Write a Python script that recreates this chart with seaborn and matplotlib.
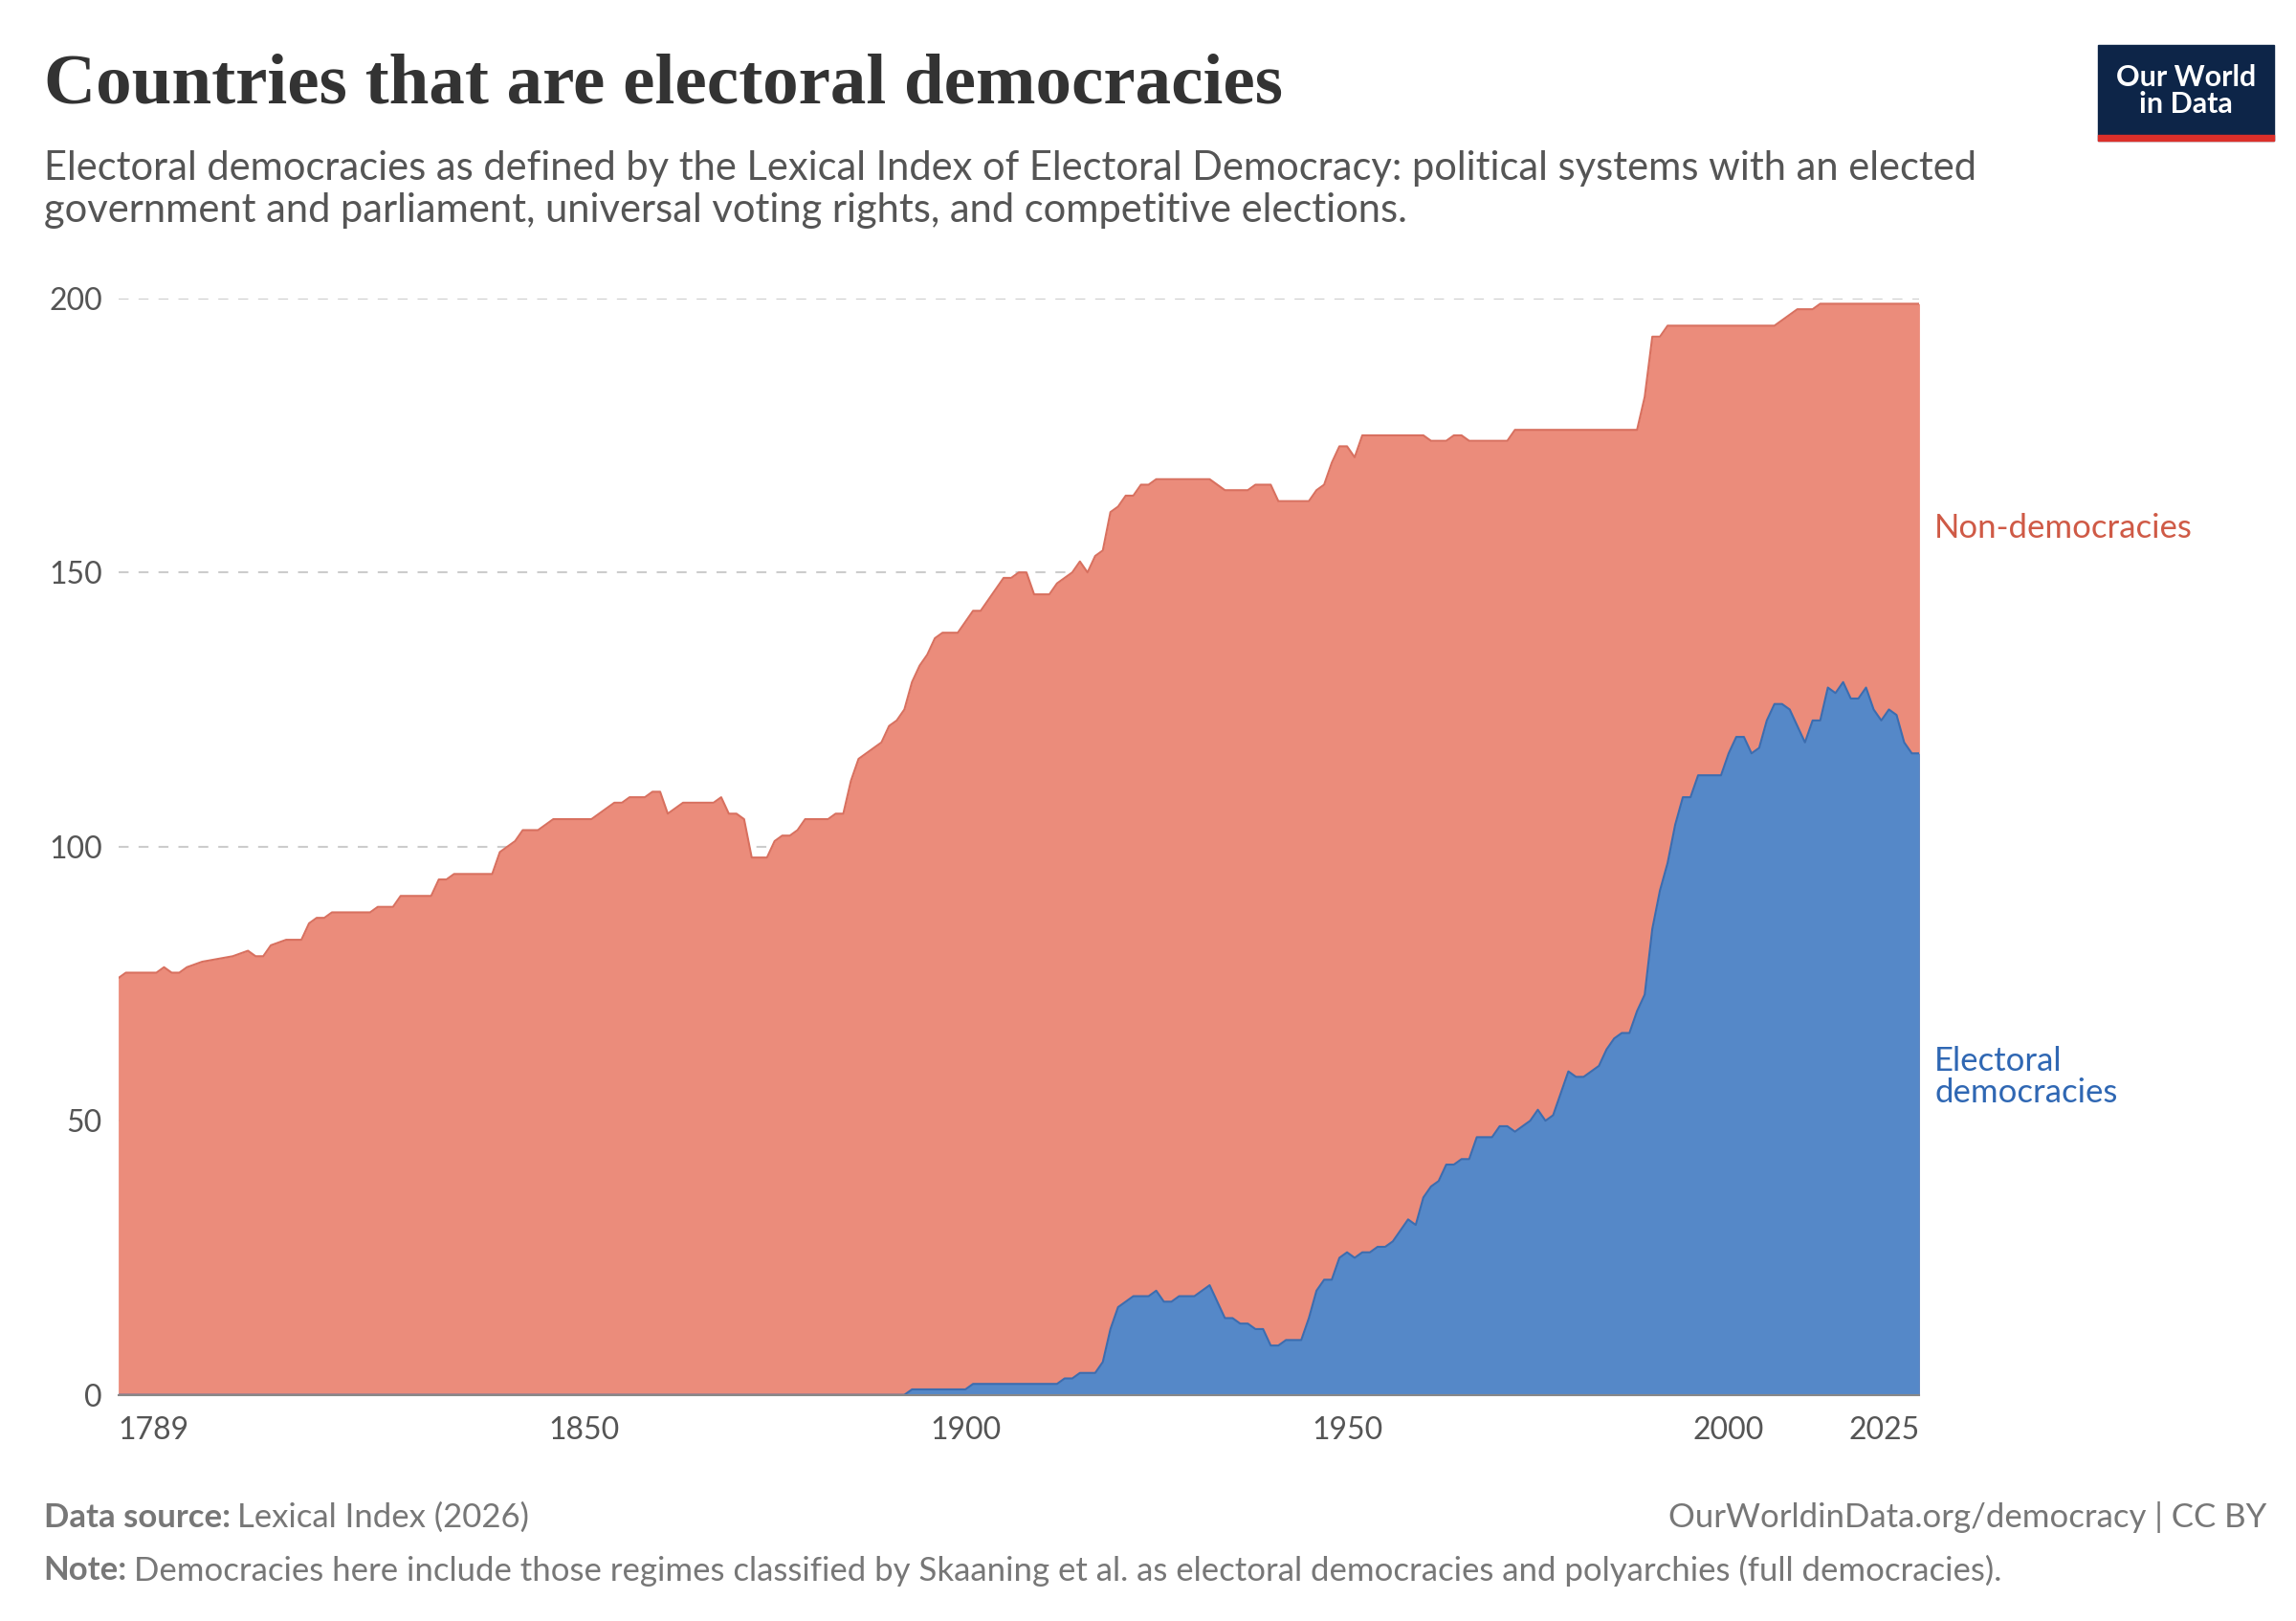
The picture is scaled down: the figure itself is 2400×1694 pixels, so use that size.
import matplotlib
matplotlib.use("Agg")
import matplotlib.pyplot as plt
import seaborn as sns
from matplotlib.patches import Rectangle

total_years = [1789,1790,1794,1795,1796,1797,1798,1800,1804,1806,1807,1808,1809,1811,1813,1814,1815,1816,1817,1822,1823,1825,1826,1830,1831,1832,1833,1838,1839,1840,1841,1842,1844,1845,1846,1851,1852,1854,1855,1856,1858,1859,1860,1861,1862,1863,1867,1868,1869,1870,1871,1872,1874,1875,1876,1877,1878,1879,1882,1883,1884,1885,1886,1887,1888,1889,1890,1891,1892,1893,1894,1895,1896,1897,1899,1900,1901,1902,1903,1904,1905,1906,1907,1908,1909,1911,1912,1913,1914,1915,1916,1917,1918,1919,1920,1921,1922,1923,1924,1925,1932,1933,1934,1937,1938,1940,1941,1945,1946,1947,1948,1949,1950,1951,1952,1960,1961,1963,1964,1965,1966,1971,1972,1988,1989,1990,1991,1992,2006,2007,2008,2009,2011,2012,2025]
total_values = [76,77,77,78,77,77,78,79,80,81,80,80,82,83,83,86,87,87,88,88,89,89,91,91,94,94,95,95,99,100,101,103,103,104,105,105,106,108,108,109,109,110,110,106,107,108,108,109,106,106,105,98,98,101,102,102,103,105,105,106,106,112,116,117,118,119,122,123,125,130,133,135,138,139,139,141,143,143,145,147,149,149,150,150,146,146,148,149,150,152,150,153,154,161,162,164,164,166,166,167,167,166,165,165,166,166,163,163,165,166,170,173,173,171,175,175,174,174,175,175,174,174,176,176,182,193,193,195,195,196,197,198,198,199,199]

dem_years = [1789,1892,1893,1900,1901,1912,1913,1914,1915,1917,1918,1919,1920,1921,1922,1924,1925,1926,1927,1928,1930,1931,1932,1933,1934,1935,1936,1937,1938,1939,1940,1941,1942,1944,1945,1946,1947,1948,1949,1950,1951,1952,1953,1954,1955,1956,1957,1958,1959,1960,1961,1962,1963,1964,1965,1966,1967,1969,1970,1971,1972,1973,1974,1975,1976,1977,1978,1979,1980,1981,1982,1983,1984,1985,1986,1987,1988,1989,1990,1991,1992,1993,1994,1995,1996,1999,2000,2001,2002,2003,2004,2005,2006,2007,2008,2009,2010,2011,2012,2013,2014,2015,2016,2017,2018,2019,2020,2021,2022,2023,2024,2025]
dem_values = [0,0,1,1,2,2,3,3,4,4,6,12,16,17,18,18,19,17,17,18,18,19,20,17,14,14,13,13,12,12,9,9,10,10,14,19,21,21,25,26,25,26,26,27,27,28,30,32,31,36,38,39,42,42,43,43,47,47,49,49,48,49,50,52,50,51,55,59,58,58,59,60,63,65,66,66,70,73,85,92,97,104,109,109,113,113,117,120,120,117,118,123,126,126,125,122,119,123,123,129,128,130,127,127,129,125,123,125,124,119,117,117]

x_ticks = [1789,1850,1900,1950,2000,2025]
y_ticks = [0,50,100,150,200]

sns.set_theme(style="white")
plt.rcParams['font.family'] = ['Lato', 'DejaVu Sans']

fig = plt.figure(figsize=(24, 16.94), dpi=100)
ax = fig.add_axes([0.0515, 0.1395, 0.7845, 0.6765])

red, red_edge = "#eb8c7b", "#d8705f"
blue, blue_edge = "#5588c8", "#3b6db0"
ax.fill_between(total_years, 0, total_values, color=red, lw=0)
ax.plot(total_years, total_values, color=red_edge, lw=1.5)
ax.fill_between(dem_years, 0, dem_values, color=blue, lw=0)
ax.plot(dem_years, dem_values, color=blue_edge, lw=1.5)

ax.set_xlim(1789, 2025)
ax.set_ylim(0, 200)
ax.set_xticks(x_ticks)
ax.set_yticks(y_ticks)
ax.tick_params(axis='x', labelsize=23, colors="#555555", length=8, width=1.2, direction='out', pad=8)
ax.tick_params(axis='y', labelsize=23, colors="#555555", length=0, pad=12)
xl = ax.get_xticklabels()
xl[0].set_ha("left")
xl[-1].set_ha("right")
for y in y_ticks[1:]:
    ax.axhline(y, color="#cccccc", lw=1.5, ls=(0, (5, 5)), zorder=0)
for s in ["top", "right", "left"]:
    ax.spines[s].set_visible(False)
ax.spines["bottom"].set_color("#888888")
ax.spines["bottom"].set_linewidth(1.5)

ax.text(2027, 158, "Non-democracies", color="#cf5a46", fontsize=25, va="center")
ax.text(2027, 58, "Electoral\ndemocracies", color="#2f67b3", fontsize=25, va="center", linespacing=1.05)

fig.text(0.019, 0.947, "Countries that are electoral democracies", fontsize=54, fontweight="bold",
         family=["Liberation Serif", "DejaVu Serif"], color="#333333", va="center")
fig.text(0.019, 0.883, "Electoral democracies as defined by the Lexical Index of Electoral Democracy: political systems with an elected\ngovernment and parliament, universal voting rights, and competitive elections.",
         fontsize=30, color="#555555", va="center", linespacing=1.2)

def label_pair(x, y, bold, rest):
    t = fig.text(x, y, bold, fontsize=25, color="#777777", fontweight="bold", va="center")
    fig.canvas.draw()
    bb = t.get_window_extent().transformed(fig.transFigure.inverted())
    fig.text(bb.x1 + 0.003, y, rest, fontsize=25, color="#777777", va="center")

label_pair(0.019, 0.064, "Data source:", "Lexical Index (2026)")
fig.text(0.987, 0.064, "OurWorldinData.org/democracy | CC BY", fontsize=25, color="#777777", va="center", ha="right")
label_pair(0.019, 0.031, "Note:", "Democracies here include those regimes classified by Skaaning et al. as electoral democracies and polyarchies (full democracies).")

fig.patches.append(Rectangle((0.9137, 0.913), 0.0768, 0.059, transform=fig.transFigure, color="#0d2548", zorder=5))
fig.patches.append(Rectangle((0.9137, 0.913), 0.0768, 0.004, transform=fig.transFigure, color="#dc2f2a", zorder=6))
fig.text(0.952, 0.944, "Our World\nin Data", fontsize=22, color="white", ha="center", va="center",
         fontweight="bold", linespacing=1.0, zorder=7)

fig.savefig("out.png", dpi=100, facecolor="white")
